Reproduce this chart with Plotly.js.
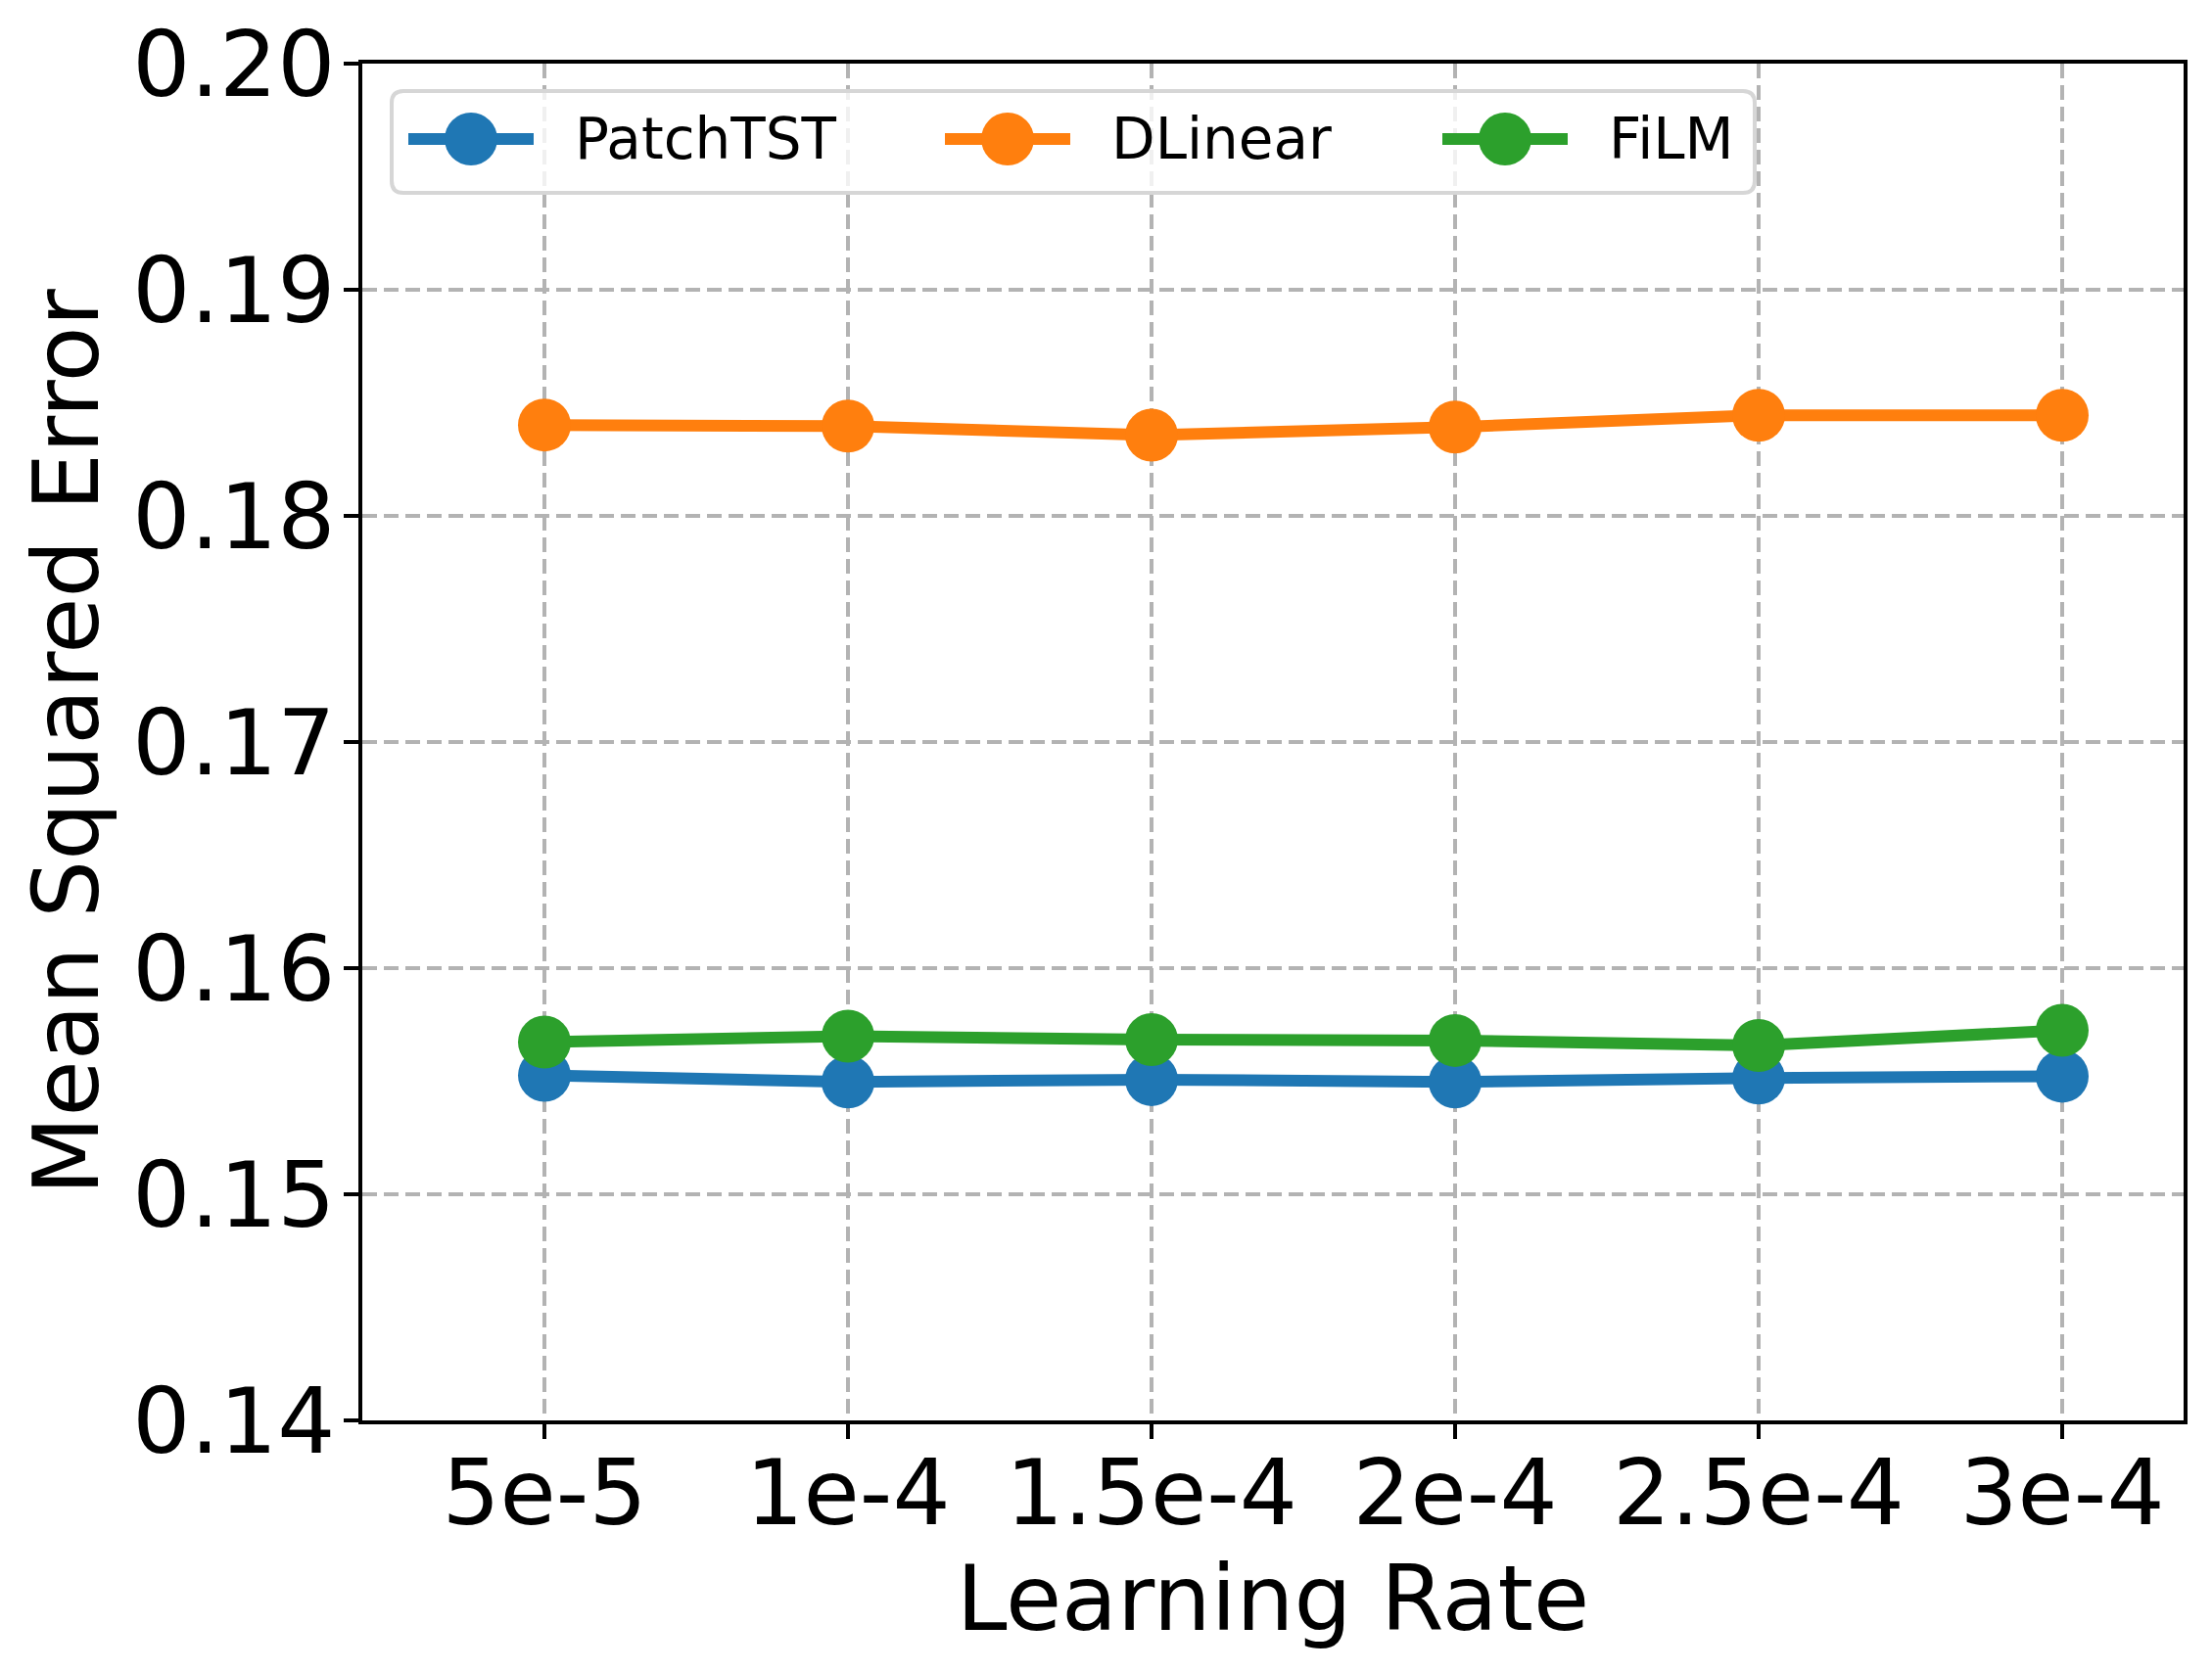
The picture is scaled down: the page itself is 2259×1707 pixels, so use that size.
<!DOCTYPE html>
<html>
<head>
<meta charset="utf-8">
<script src="https://cdn.plot.ly/plotly-3.0.1.min.js"></script>
<style>
  html, body { margin: 0; padding: 0; background: #ffffff; }
  #chart { width: 2259px; height: 1707px; }
</style>
</head>
<body>
<div id="chart"></div>
<script>
// values
var learningRates = ['5e-5', '1e-4', '1.5e-4', '2e-4', '2.5e-4', '3e-4'];
var patchTST = [0.15526, 0.15497, 0.15507, 0.15497, 0.15514, 0.15522];
var dLinear  = [0.18402, 0.18397, 0.18357, 0.18393, 0.18445, 0.18445];
var film     = [0.15673, 0.15699, 0.15684, 0.15680, 0.15658, 0.15725];
var seriesNames = ['PatchTST', 'DLinear', 'FiLM'];
var yTicks = [0.14, 0.15, 0.16, 0.17, 0.18, 0.19, 0.20];

var colors = ['#1f77b4', '#ff7f0e', '#2ca02c'];
var font = 'DejaVu Sans, Liberation Sans, sans-serif';

// plot box (px)
var W = 2259, H = 1707;
var M = { l: 370, r: 29, t: 65, b: 256 };
var plotW = W - M.l - M.r;
var plotH = H - M.t - M.b;
function px(x) { return (x - M.l) / plotW; }
function py(y) { return (H - M.b - y) / plotH; }

var seriesValues = [patchTST, dLinear, film];
var traces = seriesValues.map(function (vals, i) {
    return {
        x: learningRates,
        y: vals,
        name: seriesNames[i],
        type: 'scatter',
        mode: 'lines+markers',
        line: { color: colors[i], width: 12 },
        marker: { color: colors[i], size: 54 },
        showlegend: false
    };
});

// legend drawn by hand so handles keep the reference size
var legBox = { x0: 400, x1: 1792, y0: 93, y1: 197, r: 12 };
var legItemX = [417, 965, 1473];
var legY = 142;
var shapes = [];
var annotations = [];

function roundedBox(b) {
    var x0 = px(b.x0), x1 = px(b.x1), y0 = py(b.y1), y1 = py(b.y0);
    var rx = b.r / plotW, ry = b.r / plotH;
    return 'M' + (x0 + rx) + ',' + y0 +
        ' L' + (x1 - rx) + ',' + y0 + ' Q' + x1 + ',' + y0 + ' ' + x1 + ',' + (y0 + ry) +
        ' L' + x1 + ',' + (y1 - ry) + ' Q' + x1 + ',' + y1 + ' ' + (x1 - rx) + ',' + y1 +
        ' L' + (x0 + rx) + ',' + y1 + ' Q' + x0 + ',' + y1 + ' ' + x0 + ',' + (y1 - ry) +
        ' L' + x0 + ',' + (y0 + ry) + ' Q' + x0 + ',' + y0 + ' ' + (x0 + rx) + ',' + y0 + ' Z';
}

shapes.push({
    type: 'path', xref: 'paper', yref: 'paper', layer: 'above',
    path: roundedBox(legBox),
    fillcolor: 'rgba(255,255,255,0.8)',
    line: { color: '#d6d6d6', width: 4 }
});

seriesNames.forEach(function (name, i) {
    var x0 = legItemX[i];
    shapes.push({
        type: 'line', xref: 'paper', yref: 'paper', layer: 'above',
        x0: px(x0), x1: px(x0 + 128), y0: py(legY), y1: py(legY),
        line: { color: colors[i], width: 12 }
    });
    shapes.push({
        type: 'circle', xref: 'paper', yref: 'paper', layer: 'above',
        x0: px(x0 + 64 - 27), x1: px(x0 + 64 + 27),
        y0: py(legY + 27), y1: py(legY - 27),
        fillcolor: colors[i], line: { width: 0 }
    });
    annotations.push({
        xref: 'paper', yref: 'paper', x: px(x0 + 168), y: py(legY),
        xanchor: 'left', yanchor: 'middle', showarrow: false,
        text: name, font: { family: font, size: 58, color: '#000000' }
    });
});

var axisStyle = {
    showline: true, linecolor: '#000000', linewidth: 4, mirror: true,
    ticks: 'outside', ticklen: 15, tickwidth: 4, tickcolor: '#000000',
    showgrid: true, gridcolor: '#b3b3b3', gridwidth: 3.5, griddash: '15px,7px',
    zeroline: false, automargin: false,
    tickfont: { family: font, size: 93, color: '#000000' }
};

var layout = {
    width: W, height: H,
    margin: M,
    paper_bgcolor: '#ffffff', plot_bgcolor: '#ffffff',
    showlegend: false,
    xaxis: Object.assign({}, axisStyle, {
        type: 'category', range: [-0.6, 5.4], ticklabelstandoff: -25,
        title: { text: 'Learning Rate', font: { family: font, size: 93, color: '#000000' }, standoff: 5 }
    }),
    yaxis: Object.assign({}, axisStyle, {
        range: [0.14, 0.20], tickvals: yTicks, tickformat: '.2f', ticklabelstandoff: -10,
        title: { text: 'Mean Squared Error', font: { family: font, size: 93, color: '#000000' }, standoff: 5 }
    }),
    shapes: shapes,
    annotations: annotations
};

Plotly.newPlot('chart', traces, layout, { displayModeBar: false, staticPlot: true });
</script>
</body>
</html>
